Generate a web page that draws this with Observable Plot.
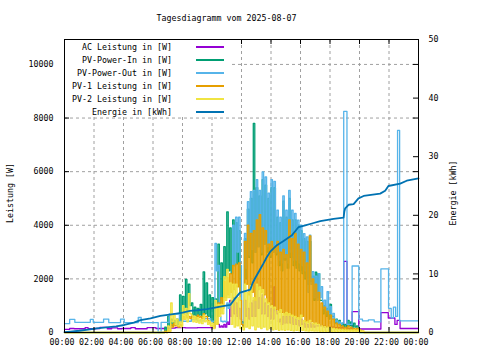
<!DOCTYPE html>
<html><head><meta charset="utf-8">
<script src="https://cdn.jsdelivr.net/npm/d3@7"></script>
<script src="https://cdn.jsdelivr.net/npm/@observablehq/plot@0.6"></script>
<style>
html,body{margin:0;padding:0;background:#fff;}
#wrap{position:relative;width:480px;height:360px;font-family:"DejaVu Sans Mono",monospace;font-size:8.3px;color:#000;}
.abs{position:absolute;white-space:nowrap;line-height:10px;}
</style></head><body>
<div id="wrap"><div id="chart"></div></div>
<script>
// ---------- text ----------
const titleText = "Tagesdiagramm vom 2025-08-07";
const yLabelText = "Leistung [W]";
const y2LabelText = "Energie [kWh]";
const seriesNames = ["AC Leistung in [W]", "PV-Power-In in [W]", "PV-Power-Out in [W]", "PV-1 Leistung in [W]", "PV-2 Leistung in [W]", "Energie in [kWh]"];
const seriesColors = ["#9400d3", "#009e73", "#56b4e9", "#e69f00", "#f0e442", "#0072b2"];

// ---------- axes ----------
const xTickHours = [0, 2, 4, 6, 8, 10, 12, 14, 16, 18, 20, 22, 24];
const xTickLabels = ["00:00","02:00","04:00","06:00","08:00","10:00","12:00","14:00","16:00","18:00","20:00","22:00","00:00"];
const yTicks = [0, 2000, 4000, 6000, 8000, 10000];
const y2Ticks = [0, 10, 20, 30, 40, 50];
const yMax = 10930, y2Max = 50;

// ---------- data (hours, W / kWh) ----------
// step breakpoints [hour, value]; dense daytime samples every 0.2 h: hi at t, lo at t+0.1
const acSteps = [[0,120],[0.35,150],[0.65,140],[1.4,180],[1.6,140],[2.1,150],[2.4,190],[2.9,140],[3.2,170],[3.6,140],[3.9,150],[4.5,180],[4.8,140],[5.6,180],[6.2,150],[6.8,160],[7.5,180],[8.2,170],[9.0,180],[10.0,170],
  [17.0,250],[17.6,200],[18.3,180],[18.93,2650],[19.15,130],[19.5,776],[19.95,130],[21.45,740],[21.95,540],[22.4,300],[22.55,450],[22.75,150],[24,150]];
const acStart = 10.2;
const acHi = [450,300,250,300,400,1200,1300,1100,900,300, 1200,900,1100,1200,1800,1300,1400,1100,1000,900, 1700,700,500,600,600,600,550,500,450,500, 350,300,350,300];
const acLo = [300,200,200,200,300,600,700,600,500,200, 600,500,600,600,900,700,700,600,500,500, 800,400,300,350,350,350,300,300,250,300, 200,200,200,200];

const inSteps = [[0,0],[6.6,0],[20.0,0],[24,0]];
const inStart = 6.8;
const inHi = [200,600,500,450,500,1400,1350,1980,1800,1100, 950,900,1050,2260,1850,1400,1300,1250,3300,2600, 3200,4500,3900,4200,4100,3800,400,3500,4600,5000, 7800,5400,5100,5700,5500,5000,5400,5400,4300,4100, 4900,4300,5000,4200,4200,4000,3800,3500,3400,3400, 2100,2250,2200,1200,1000,900,1050,600,500,450, 350,300,450,400,350,250];
const inLo = [50,250,250,300,300,400,700,700,1000,650, 600,650,600,700,600,420,350,600,1100,1300, 2000,2300,2200,2500,2550,1500,200,2000,2800,2600, 3000,3200,2900,3300,3000,2800,3000,2900,2500,2300, 2700,2400,2800,2500,2400,2300,2200,2000,1800,1900, 1200,1300,1200,700,600,500,600,350,300,250, 200,200,250,200,200,150];

const outSteps = [[0,330],[0.35,490],[0.7,380],[1.75,490],[1.95,380],[2.65,500],[3.0,370],[3.8,500],[4.05,370],[5.0,560],[5.2,370],[6.35,0],[6.55,380],[7.1,690],[7.8,420],[8.6,480],[9.0,430],[9.5,520],[9.9,420],
  [18.8,350],[18.93,8250],[19.15,300],[19.5,2480],[19.95,500],[20.2,430],[20.6,470],[21.0,400],[21.45,2370],[21.97,900],[22.15,550],[22.3,950],[22.45,600],[22.58,7540],[22.72,430],[24,430]];
const outStart = 10.2;
const outHi = [3320,2500,420,420,1100,1100,4000,4300,4300,350, 3700,4880,5250,5300,5700,5300,5990,5800,5200,5700, 5640,4560,4300,5100,4560,5300,4560,4440,4190,4000, 3690,3570,3630,2270,2100,2200,1710,1210,1520,960, 710,470,400];
const outLo = [2300,600,400,400,900,1000,2500,3000,2500,300, 2400,2900,3100,3000,3200,3000,3300,3200,2900,3000, 3000,2700,2600,2800,2600,3000,2700,2700,2600,2500, 2300,1500,1800,1300,1200,1300,900,800,700,500, 400,300,300];

const pv1Steps = [[0,0],[6.6,0],[20.4,0],[24,0]];
const pv1Start = 6.8;
const pv1Hi = [50,100,300,350,250,300,600,650,600,620, 600,650,600,700,600,350,250,400,1100,1300, 1900,2050,2200,2500,2550,2600,300,3400,4000,3700, 3800,4200,4400,3900,3800,3300,3400,3200,3400,3000, 3100,2900,4200,3500,3700,3300,3100,3000,2600,3600, 2000,1800,1500,1100,950,800,650,500,350,300, 250,200,250,200,150,150,100,50];
const pv1Lo = [0,50,200,250,200,250,500,550,520,550, 520,560,520,580,450,250,200,300,700,900, 1300,1400,1500,1600,1700,1200,200,1800,1400,1500, 1200,1600,1500,1400,1100,1000,900,850,750,750, 650,650,650,600,550,500,600,400,380,400, 330,330,280,240,210,190,160,140,130,120, 110,100,100,100,100,80,50,0];

const pv2Steps = [[0,0],[6.6,0],[20.4,0],[24,0]];
const pv2Start = 6.8;
const pv2Hi = [0,250,1100,650,500,400,1000,900,1450,650, 600,550,500,650,450,420,350,1200,1050,1050, 2080,2350,1850,1800,1800,1300,200,1800,1500,1750, 1300,1800,1700,1600,1250,1100,1000,950,800,850, 700,750,700,650,600,550,650,450,400,450, 350,350,300,250,220,200,170,150,130,120, 110,100,100,100,100,90,80,50];
const pv2Lo = [0,50,400,300,250,200,500,400,700,400, 380,350,330,400,300,250,150,300,600,700, 1200,1300,300,200,250,150,100,200,150,250, 100,200,150,200,100,150,100,120,80,100, 80,100,80,60,80,60,80,60,50,60, 50,50,40,40,40,30,30,30,30,30, 30,20,20,20,20,20,10,0];

const energySteps = [[0,0.05],[0.4,0.15],[1.0,0.3],[1.6,0.5],[2.2,0.7],[3.0,0.9],[3.5,1.05],[4.05,1.28],[4.7,1.67],[5.15,2.1],[5.83,2.4],[6.5,2.85],[7.37,3.15],[8.0,3.4],[8.5,3.7],[9.0,3.8],[9.65,4.0],[10.56,4.4],[11.24,4.7],[11.5,5.6],[11.7,6.2],[11.9,6.8],[12.3,7.1],[12.59,7.3],[12.75,8.4],[12.93,9.3],[13.2,10.5],[13.49,11.8],[13.7,12.8],[13.95,13.8],[14.4,14.9],[14.85,15.6],[15.42,16.6],[15.87,18.0],[16.32,18.3],[16.77,18.6],[17.34,19.0],[18.24,19.4],[18.92,19.6],[18.97,20.6],[19.03,21.2],[19.26,21.8],[19.6,21.9],[19.93,22.9],[20.28,23.3],[21.4,23.7],[21.74,24.2],[21.96,25.0],[22.76,25.4],[23.2,25.9],[24,26.3]];

// ---------- build tables ----------
function build(steps, start, hi, lo) {
  const end = start + hi.length * 0.2;
  const pts = steps.filter(([t]) => t < start - 1e-9 || t >= end - 1e-9).map(([t, v]) => ({t, v}));
  hi.forEach((h, i) => {
    pts.push({t: start + 0.2 * i, v: h});
    pts.push({t: start + 0.2 * i + 0.1, v: lo[i]});
  });
  return pts.sort((a, b) => a.t - b.t);
}
const k = yMax / y2Max;
const acData = build(acSteps, acStart, acHi, acLo);
const inData = build(inSteps, inStart, inHi, inLo);
const outData = build(outSteps, outStart, outHi, outLo);
const pv1Data = build(pv1Steps, pv1Start, pv1Hi, pv1Lo);
const pv2Data = build(pv2Steps, pv2Start, pv2Hi, pv2Lo);
const enData = energySteps.map(([t, e]) => ({t, v: e * k}));

const W = 480, H = 360, mL = 64, mR = 62, mT = 39, mB = 28;
const pw = W - mL - mR, ph = H - mT - mB;
const grid = {stroke: "#a0a0a0", strokeDasharray: "3,3", strokeWidth: 1};
const sw = 1.3;

const chart = Plot.plot({
  width: W, height: H,
  marginLeft: mL, marginRight: mR, marginTop: mT, marginBottom: mB,
  x: {domain: [0, 24], axis: null},
  y: {domain: [0, yMax], axis: null},
  style: {fontFamily: "DejaVu Sans Mono", fontSize: "8.3px", background: "#fff", color: "#000"},
  marks: [
    Plot.ruleX(xTickHours.slice(1, -1), {x: d => d, ...grid}),
    Plot.ruleY(yTicks.slice(1), {y: d => d, ...grid}),
    Plot.line(acData, {x: "t", y: "v", curve: "step-after", stroke: seriesColors[0], strokeWidth: sw}),
    Plot.line(inData, {x: "t", y: "v", curve: "step-after", stroke: seriesColors[1], strokeWidth: sw}),
    Plot.line(outData, {x: "t", y: "v", curve: "step-after", stroke: seriesColors[2], strokeWidth: sw}),
    Plot.line(pv1Data, {x: "t", y: "v", curve: "step-after", stroke: seriesColors[3], strokeWidth: sw}),
    Plot.line(pv2Data, {x: "t", y: "v", curve: "step-after", stroke: seriesColors[4], strokeWidth: sw}),
    Plot.line(enData, {x: "t", y: "v", stroke: seriesColors[5], strokeWidth: 1.8}),
    // inward ticks
    Plot.tickY(yTicks, {y: d => d, insetRight: pw - 5, stroke: "#000"}),
    Plot.tickY(yTicks, {y: d => d, insetLeft: pw - 5, stroke: "#000"}),
    Plot.tickY(y2Ticks, {y: d => d * k, insetLeft: pw - 5, stroke: "#000"}),
    Plot.tickX(xTickHours, {x: d => d, insetTop: ph - 5, stroke: "#000"}),
    Plot.tickX(xTickHours, {x: d => d, insetBottom: ph - 5, stroke: "#000"}),
    Plot.frame({stroke: "#000"}),
    // tick labels
    Plot.text(yTicks, {y: d => d, text: d => String(d), frameAnchor: "left", textAnchor: "end", dx: -11, fill: "#000"}),
    Plot.text(y2Ticks, {y: d => d * k, text: d => String(d), frameAnchor: "right", textAnchor: "start", dx: 10, fill: "#000"}),
    Plot.text(xTickHours, {x: d => d, text: (d, i) => xTickLabels[i], frameAnchor: "bottom", dy: 12, dx: -2.5, fill: "#000"})
  ]
});
const wrap = document.getElementById("wrap");
document.getElementById("chart").appendChild(chart);

function addDiv(text, css) {
  const d = document.createElement("div");
  d.className = "abs";
  d.textContent = text;
  Object.assign(d.style, css);
  wrap.appendChild(d);
  return d;
}
addDiv(titleText, {left: "0px", width: "453px", top: "13px", textAlign: "center"});
addDiv(yLabelText, {left: "9.5px", top: "193px", transform: "translate(-50%,-50%) rotate(-90deg)"});
addDiv(y2LabelText, {left: "452.5px", top: "193px", transform: "translate(-50%,-50%) rotate(-90deg)"});

// legend (opaque box over the grid)
const box = document.createElement("div");
Object.assign(box.style, {position: "absolute", left: "65px", top: "40px", width: "165px", height: "77px", background: "#fff"});
wrap.appendChild(box);
seriesNames.forEach((name, i) => {
  const yc = 46.7 + 13.07 * i;
  addDiv(name, {left: "0px", width: "172px", textAlign: "right", top: (yc - 5) + "px"});
  const s = document.createElement("div");
  Object.assign(s.style, {position: "absolute", left: "196px", width: "28px", top: Math.round(yc - 1) + "px", height: "2px", background: seriesColors[i]});
  wrap.appendChild(s);
});
</script></body></html>
